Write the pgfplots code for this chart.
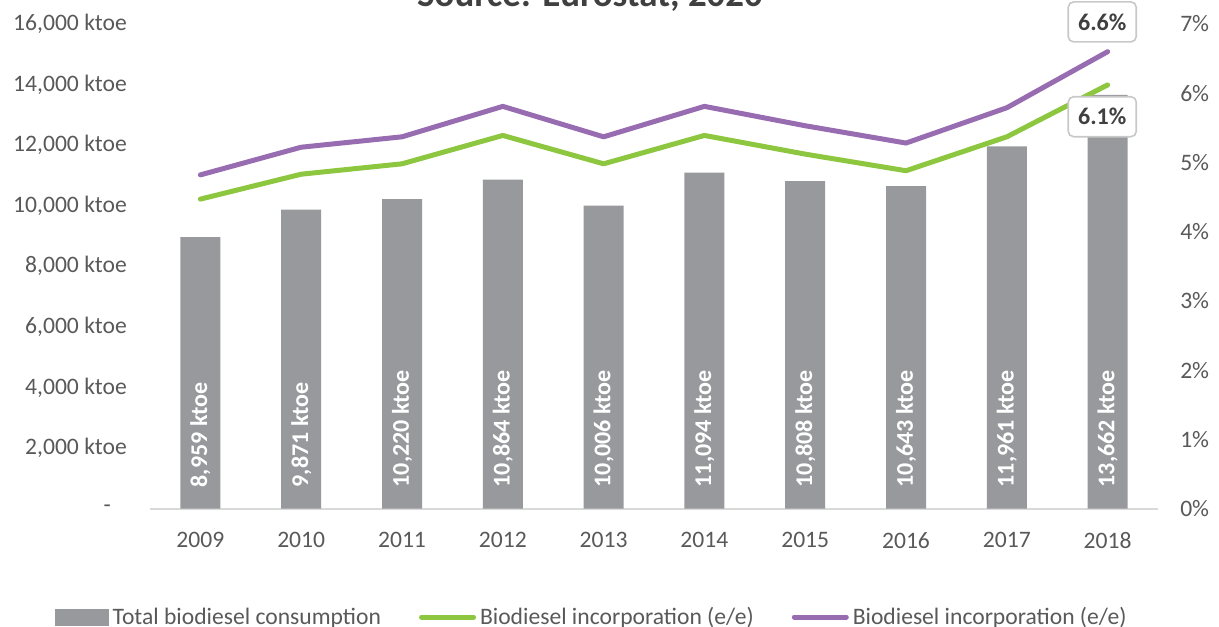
\documentclass[border=0pt]{standalone}
\usepackage{fontspec}
\setmainfont{Carlito}
\usepackage{pgfplots}
\pgfplotsset{compat=1.18}
\usepackage{pgfplotstable}

\definecolor{barGray}{RGB}{152,153,157}
\definecolor{lineGreen}{RGB}{141,198,63}
\definecolor{linePurple}{RGB}{152,108,177}
\definecolor{baseGray}{RGB}{217,217,217}
\definecolor{tickText}{RGB}{89,89,89}
\definecolor{darkText}{RGB}{64,64,64}
\definecolor{boxBorder}{RGB}{200,200,200}

% consumption in ktoe (bars)
\pgfplotstableread{
x val base lab
0 8959 0 8,959
1 9871 0 9,871
2 10220 0 10,220
3 10864 0 10,864
4 10006 0 10,006
5 11094 0 11,094
6 10808 0 10,808
7 10643 0 10,643
8 11961 0 11,961
9 13662 0 13,662
}\bars

% incorporation shares in % (lines)
\pgfplotstableread{
x green purple
0 4.47 4.82
1 4.83 5.22
2 4.98 5.37
3 5.39 5.81
4 4.98 5.37
5 5.39 5.81
6 5.12 5.53
7 4.88 5.28
8 5.37 5.79
9 6.12 6.60
}\shares

\newcommand{\tickfont}{\fontsize{17.7}{20}\selectfont}

\begin{document}
\begin{tikzpicture}
\useasboundingbox (0,0) rectangle (914.25pt,469.5pt);
\clip (0,0) rectangle (914.25pt,469.5pt);

\node[anchor=base, font=\fontsize{27.7}{30}\selectfont\bfseries, text=darkText]
  at (442.5pt,464.25pt) {Source: Eurostat, 2020};

\pgfplotsset{
  common/.style={
    scale only axis, width=756pt, height=363.375pt,
    at={(112.5pt,88.125pt)}, anchor=south west,
    xmin=-0.5, xmax=9.5,
    axis line style={draw=none}, major tick length=0pt,
    tick label style={font=\tickfont, text=tickText},
    scaled y ticks=false, scaled x ticks=false,
    clip=false,
  },
}

% left axis: bars
\begin{axis}[
  common,
  ymin=0, ymax=16000,
  ytick={0,2000,...,16000},
  yticklabels={{-\hspace*{12pt}},{2,000 ktoe},{4,000 ktoe},{6,000 ktoe},{8,000 ktoe},{10,000 ktoe},{12,000 ktoe},{14,000 ktoe},{16,000 ktoe}},
  yticklabel style={anchor=east, inner sep=0pt, xshift=-17.25pt},
  xtick={0,...,9},
  xticklabels={2009,2010,2011,2012,2013,2014,2015,2016,2017,2018},
  xticklabel style={anchor=north, inner sep=0pt, yshift=-17.5pt},
]
\draw[baseGray, line width=1.5pt] (axis cs:-0.5,0) -- (axis cs:9.5,0);
\addplot[ybar, bar width=30pt, fill=barGray, draw=none] table[x=x, y=val] {\bars};
\addplot[draw=none, mark=none, point meta=explicit symbolic,
  nodes near coords={\pgfplotspointmeta~ktoe},
  every node near coord/.append style={rotate=90, anchor=west,
    inner xsep=15.75pt, inner ysep=0pt, text=white,
    font=\fontsize{18}{20}\selectfont\bfseries}]
  table[x=x, y=base, meta=lab] {\bars};
\end{axis}

% right axis: lines
\begin{axis}[
  common,
  ymin=0, ymax=7,
  ytick={0,...,7},
  yticklabels={0\%,1\%,2\%,3\%,4\%,5\%,6\%,7\%},
  yticklabel pos=right,
  yticklabel style={anchor=west, inner sep=0pt, xshift=16.5pt},
  xtick=\empty,
  legend columns=3,
  legend cell align=left,
  legend style={at={(-0.0942,-0.224)}, anchor=west, draw=none, fill=none,
    inner sep=0pt, outer sep=0pt, font=\tickfont, text=tickText,
    nodes={inner sep=0pt},
    /tikz/every odd column/.style={column sep=3pt},
    /tikz/every even column/.style={column sep=28.5pt}},
]
\addlegendimage{legend image code/.code={\fill[barGray] (0pt,-6pt) rectangle (39.75pt,6pt);}}
\addlegendentry{Total biodiesel consumption}
\addplot[lineGreen, line width=3.75pt, line cap=round, line join=round,
  legend image code/.code={\draw[lineGreen, line width=3.75pt, line cap=round] (1.9pt,0pt) -- (40.9pt,0pt);}]
  table[x=x, y=green] {\shares};
\addlegendentry{Biodiesel incorporation (e/e)}
\addplot[linePurple, line width=3.75pt, line cap=round, line join=round,
  legend image code/.code={\draw[linePurple, line width=3.75pt, line cap=round] (1.9pt,0pt) -- (40.9pt,0pt);}]
  table[x=x, y=purple] {\shares};
\addlegendentry{Biodiesel incorporation (e/e)}

\node[draw=boxBorder, line width=1.2pt, rounded corners=4pt, fill=white,
  text=darkText, font=\fontsize{18}{20}\selectfont\bfseries,
  minimum width=51pt, minimum height=30pt, anchor=south, xshift=-4pt, yshift=6.75pt]
  at (axis cs:9,6.60) {6.6\%};
\node[draw=boxBorder, line width=1.2pt, rounded corners=4pt, fill=white,
  text=darkText, font=\fontsize{18}{20}\selectfont\bfseries,
  minimum width=51pt, minimum height=30pt, anchor=north, xshift=-4pt, yshift=-8.25pt]
  at (axis cs:9,6.12) {6.1\%};
\end{axis}
\end{tikzpicture}
\end{document}
